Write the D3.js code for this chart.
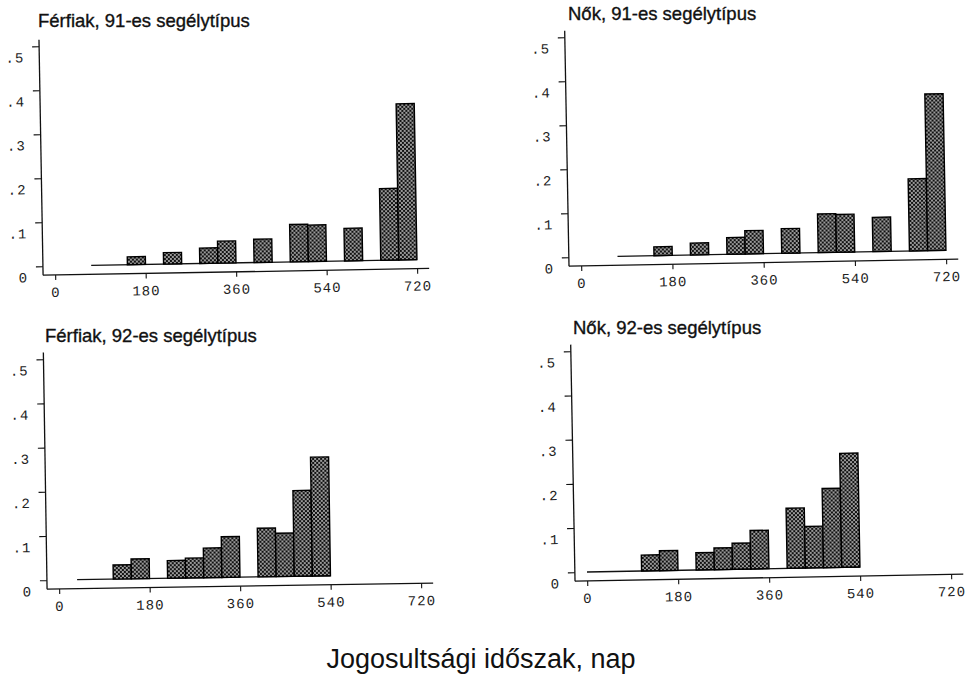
<!DOCTYPE html>
<html>
<head>
<meta charset="utf-8">
<script src="https://cdn.jsdelivr.net/npm/d3@7/dist/d3.min.js"></script>
<style>
  html, body { margin: 0; padding: 0; background: #fff; }
  svg { display: block; }
  .title { font-family: "Liberation Sans", Arial, sans-serif; font-size: 18.5px; fill: #111; stroke: #111; stroke-width: 0.35px; }
  .caption { font-family: "Liberation Sans", Arial, sans-serif; font-size: 27px; fill: #111; }
  .tick text { font-family: "Liberation Mono", "DejaVu Sans Mono", monospace; font-size: 14px; fill: #222; letter-spacing: 1px; }
</style>
</head>
<body>
<svg id="chart" width="967" height="678"></svg>
<script>
// Histogram bins are 36 days wide; each series starts at its own first bin.
const binWidth = 36;
const xTicks = [0, 180, 360, 540, 720];
const xTickLabels = ["0", "180", "360", "540", "720"];
const yTicks = [0, 0.1, 0.2, 0.3, 0.4, 0.5];
const yTickLabels = ["0", ".1", ".2", ".3", ".4", ".5"];

const titles = [
  "Férfiak, 91-es segélytípus",
  "Nők, 91-es segélytípus",
  "Férfiak, 92-es segélytípus",
  "Nők, 92-es segélytípus"
];

// Relative frequencies per 36-day bin
const ferfiak91Start = 72;
const ferfiak91 = [0, 0, 0.018, 0, 0.026, 0, 0.035, 0.050, 0, 0.053, 0, 0.085, 0.083, 0, 0.074, 0, 0.163, 0.355];
const nok91Start = 72;
const nok91 = [0, 0, 0.020, 0, 0.027, 0, 0.038, 0.053, 0, 0.056, 0, 0.088, 0.086, 0, 0.078, 0, 0.164, 0.356];
const ferfiak92Start = 36;
const ferfiak92 = [0, 0, 0.032, 0.045, 0, 0.040, 0.045, 0.067, 0.092, 0, 0.110, 0.098, 0.194, 0.269];
const nok92Start = 0;
const nok92 = [0, 0, 0, 0.036, 0.045, 0, 0.039, 0.049, 0.059, 0.087, 0, 0.136, 0.094, 0.179, 0.258];

const captionText = "Jogosultsági időszak, nap";

// Panel placement: pixel position of day 0 / day 720 and value 0 / 0.5
const panels = [
  { title: titles[0], values: ferfiak91, start: ferfiak91Start, x0: 55,  x1: 417, y0: 266, y1: 46,  tx: 38,  ty: 27,  rot: -1.0 },
  { title: titles[1], values: nok91,     start: nok91Start,     x0: 581, x1: 946, y0: 257, y1: 37,  tx: 568, ty: 20,  rot: -1.05 },
  { title: titles[2], values: ferfiak92, start: ferfiak92Start, x0: 59,  x1: 421, y0: 580, y1: 359, tx: 45,  ty: 342, rot: -0.9 },
  { title: titles[3], values: nok92,     start: nok92Start,     x0: 587, x1: 951, y0: 572, y1: 351, tx: 573, ty: 334, rot: -1.05 }
];

const svg = d3.select("#chart");

// Fine checkered fill used for the bars
const defs = svg.append("defs");
const pat = defs.append("pattern")
  .attr("id", "checker")
  .attr("patternUnits", "userSpaceOnUse")
  .attr("width", 4).attr("height", 4);
pat.append("rect").attr("width", 4).attr("height", 4).attr("fill", "#9a9a9a");
pat.append("rect").attr("x", 0).attr("y", 0).attr("width", 2).attr("height", 2).attr("fill", "#111");
pat.append("rect").attr("x", 2).attr("y", 2).attr("width", 2).attr("height", 2).attr("fill", "#111");

panels.forEach(p => {
  const x = d3.scaleLinear().domain([0, 720]).range([p.x0, p.x1]);
  const y = d3.scaleLinear().domain([0, 0.5]).range([p.y0, p.y1]);

  svg.append("text")
    .attr("class", "title")
    .attr("x", p.tx).attr("y", p.ty)
    .text(p.title);

  const g = svg.append("g")
    .attr("transform", `rotate(${p.rot},${p.x0},${p.y0})`);

  const axisGap = 9;          // x-axis sits a little below the zero line
  const xLeft = x(-24);

  // x axis
  const xAxis = d3.axisBottom(x)
    .tickValues(xTicks)
    .tickFormat((d, i) => xTickLabels[i])
    .tickSize(5)
    .tickPadding(7);
  const gx = g.append("g")
    .attr("transform", `translate(0,${p.y0 + axisGap})`)
    .call(xAxis);
  gx.select(".domain").remove();
  gx.selectAll(".tick line").attr("stroke", "#111").attr("stroke-width", 1.1);
  g.append("line")
    .attr("x1", xLeft).attr("x2", x(744))
    .attr("y1", p.y0 + axisGap).attr("y2", p.y0 + axisGap)
    .attr("stroke", "#111").attr("stroke-width", 1.3);

  // y axis
  const yAxis = d3.axisLeft(y)
    .tickValues(yTicks)
    .tickFormat((d, i) => yTickLabels[i])
    .tickSize(7)
    .tickPadding(8);
  const gy = g.append("g")
    .attr("transform", `translate(${xLeft},0)`)
    .call(yAxis);
  gy.select(".domain").remove();
  gy.selectAll(".tick line").attr("stroke", "#111").attr("stroke-width", 1.1);
  gy.selectAll(".tick text").attr("dy", "1.1em");
  g.append("line")
    .attr("x1", xLeft).attr("x2", xLeft)
    .attr("y1", y(0.515)).attr("y2", p.y0 + axisGap)
    .attr("stroke", "#111").attr("stroke-width", 1.3);

  // histogram bins
  const bins = p.values.map((v, i) => ({ a: p.start + i * binWidth, b: p.start + (i + 1) * binWidth, v }));
  const last = bins[bins.length - 1].b;

  g.append("line")
    .attr("x1", x(p.start)).attr("x2", x(last))
    .attr("y1", y(0)).attr("y2", y(0))
    .attr("stroke", "#111").attr("stroke-width", 1.3);

  g.selectAll("rect.bar")
    .data(bins.filter(d => d.v > 0))
    .join("rect")
    .attr("class", "bar")
    .attr("x", d => x(d.a))
    .attr("width", d => x(d.b) - x(d.a))
    .attr("y", d => y(d.v))
    .attr("height", d => y(0) - y(d.v))
    .attr("fill", "url(#checker)")
    .attr("stroke", "#000")
    .attr("stroke-width", 1.4);
});

svg.append("text")
  .attr("class", "caption")
  .attr("x", 481).attr("y", 668)
  .attr("text-anchor", "middle")
  .text(captionText);
</script>
</body>
</html>
